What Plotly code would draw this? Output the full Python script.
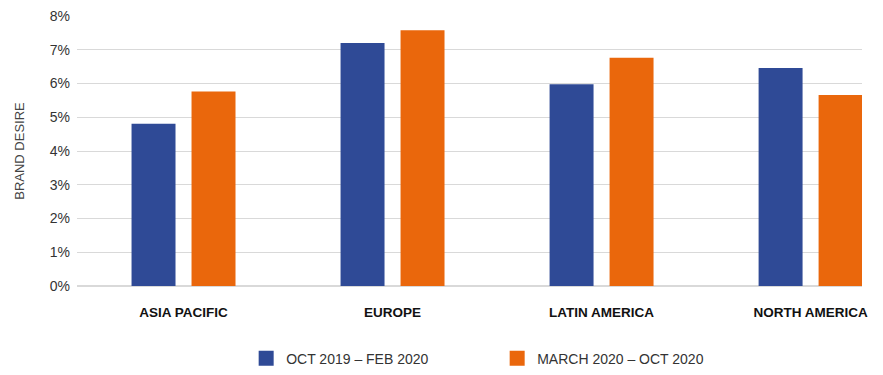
import plotly.graph_objects as go

categories = ["ASIA PACIFIC", "EUROPE", "LATIN AMERICA", "NORTH AMERICA"]
series_names = ["OCT 2019 – FEB 2020", "MARCH 2020 – OCT 2020"]
oct19_feb20 = [4.81, 7.20, 5.98, 6.46]
mar20_oct20 = [5.76, 7.58, 6.76, 5.66]
y_ticks = [0, 1, 2, 3, 4, 5, 6, 7, 8]
y_tick_labels = [f"{v}%" for v in y_ticks]

BLUE = "#2F4A96"
ORANGE = "#EA670C"
FONT = "Liberation Sans, Arial, sans-serif"

fig = go.Figure()
colors = [BLUE, ORANGE]
for name, vals, col in zip(series_names, [oct19_feb20, mar20_oct20], colors):
    fig.add_trace(go.Bar(x=categories, y=vals, name=name, showlegend=False,
                         marker=dict(color=col, line=dict(width=0))))
# legend entries with larger square swatches
for name, col in zip(series_names, colors):
    fig.add_trace(go.Scatter(x=[None], y=[None], name=name, mode="markers",
                             marker=dict(symbol="square", size=15, color=col),
                             showlegend=True))

fig.update_layout(
    width=883, height=375,
    margin=dict(l=77, r=21, t=16, b=89, autoexpand=False),
    plot_bgcolor="white", paper_bgcolor="white",
    barmode="group", bargap=0.426, bargroupgap=0.267,
    font=dict(family=FONT, color="#333333", size=14),
    showlegend=True,
    legend=dict(orientation="h", x=0.2155, xanchor="left", y=-0.21, yanchor="top",
                font=dict(family=FONT, size=14, color="#333333"),
                entrywidth=206, entrywidthmode="pixels", itemwidth=30,
                traceorder="normal"),
    xaxis=dict(range=[-0.5096, 3.246], showgrid=False, zeroline=False,
               showline=False, ticks="outside", ticklen=14, automargin=False,
               tickcolor="rgba(0,0,0,0)",
               tickfont=dict(family=FONT, size=13.5, color="#111111", weight="bold")),
    yaxis=dict(range=[0, 8], tickvals=y_ticks, ticktext=y_tick_labels,
               showgrid=True, gridcolor="#D9D9D9", gridwidth=1, automargin=False,
               zeroline=True, zerolinecolor="#D9D9D9", zerolinewidth=1.5,
               showline=False, ticks="", ticklabelstandoff=6,
               tickfont=dict(family=FONT, size=14, color="#333333"),
               title=dict(text="BRAND DESIRE", standoff=22,
                          font=dict(family=FONT, size=13, color="#444444"))),
)

fig.write_html("out.html", config={"displayModeBar": False},
               post_script="document.body.style.margin='0';")
